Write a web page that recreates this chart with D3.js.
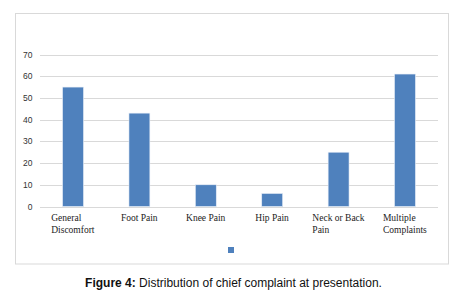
<!DOCTYPE html>
<html lang="en">
<head>
    <meta charset="UTF-8">
    <title>Distribution of chief complaint</title>
    <script src="https://d3js.org/d3.v7.min.js"></script>
    <style>
        body { margin: 0; background: #fff; }
        svg { display: block; }
    </style>
</head>
<body>
    <svg id="chart" width="470" height="305"></svg>
    <script>
        // Chart data
        const categories = [["General", "Discomfort"], ["Foot Pain"], ["Knee Pain"], ["Hip Pain"], ["Neck or Back", "Pain"], ["Multiple", "Complaints"]];
        const values = [55, 43, 10, 6, 25, 61];
        const yTicks = [0, 10, 20, 30, 40, 50, 60, 70];

        const svg = d3.select("#chart");
        const barColor = "#4f81bd";

        // Outer frame
        svg.append("rect")
            .attr("x", 15.5).attr("y", 13.5)
            .attr("width", 433).attr("height", 250.5)
            .attr("fill", "none")
            .attr("stroke", "#d9d9d9")
            .attr("stroke-width", 1);

        const plotLeft = 40, plotRight = 438;

        const x = d3.scaleBand()
            .domain(categories.map((d, i) => i))
            .range([plotLeft, plotRight])
            .paddingInner(0.685)
            .paddingOuter(0.34);

        const y = d3.scaleLinear()
            .domain([0, 70])
            .range([206.5, 54.5]);

        // Gridlines
        svg.append("g")
            .selectAll("line")
            .data(yTicks)
            .join("line")
            .attr("x1", plotLeft).attr("x2", plotRight)
            .attr("y1", d => Math.round(y(d)) + 0.5)
            .attr("y2", d => Math.round(y(d)) + 0.5)
            .attr("stroke", "#d9d9d9")
            .attr("stroke-width", 1);

        // Y tick labels
        svg.append("g")
            .selectAll("text")
            .data(yTicks)
            .join("text")
            .attr("x", 32.5)
            .attr("y", d => y(d) + 3)
            .attr("text-anchor", "end")
            .attr("font-family", "Liberation Sans, Arial, sans-serif")
            .attr("font-size", 8.5)
            .attr("fill", "#333")
            .text(d => d);

        // Bars
        svg.append("g")
            .selectAll("rect")
            .data(values)
            .join("rect")
            .attr("x", (d, i) => x(i))
            .attr("y", d => y(d))
            .attr("width", x.bandwidth())
            .attr("height", d => y(0) - y(d))
            .attr("fill", barColor)
            .attr("stroke", "#e8eef7")
            .attr("stroke-width", 0.6);

        // Category labels (lines left aligned inside a centred block)
        const labels = svg.append("g")
            .selectAll("text")
            .data(categories)
            .join("text")
            .attr("font-family", "Liberation Serif, Times New Roman, serif")
            .attr("font-size", 9.5)
            .attr("fill", "#222");

        labels.each(function(lines, i) {
            const t = d3.select(this);
            lines.forEach((line, j) => {
                t.append("tspan")
                    .attr("x", 0)
                    .attr("y", 221 + j * 11.8)
                    .text(line);
            });
            const w = this.getBBox().width;
            const cx = x(i) + x.bandwidth() / 2;
            t.selectAll("tspan").attr("x", cx - w / 2);
        });

        // Legend marker
        svg.append("rect")
            .attr("x", 228).attr("y", 247)
            .attr("width", 6).attr("height", 6)
            .attr("fill", barColor);

        // Caption
        const caption = svg.append("text")
            .attr("x", 233.5)
            .attr("y", 287)
            .attr("text-anchor", "middle")
            .attr("font-family", "Liberation Sans, Arial, sans-serif")
            .attr("font-size", 12)
            .attr("fill", "#111");
        caption.append("tspan").attr("font-weight", "bold").text("Figure 4:");
        caption.append("tspan").text(" Distribution of chief complaint at presentation.");
    </script>
</body>
</html>
